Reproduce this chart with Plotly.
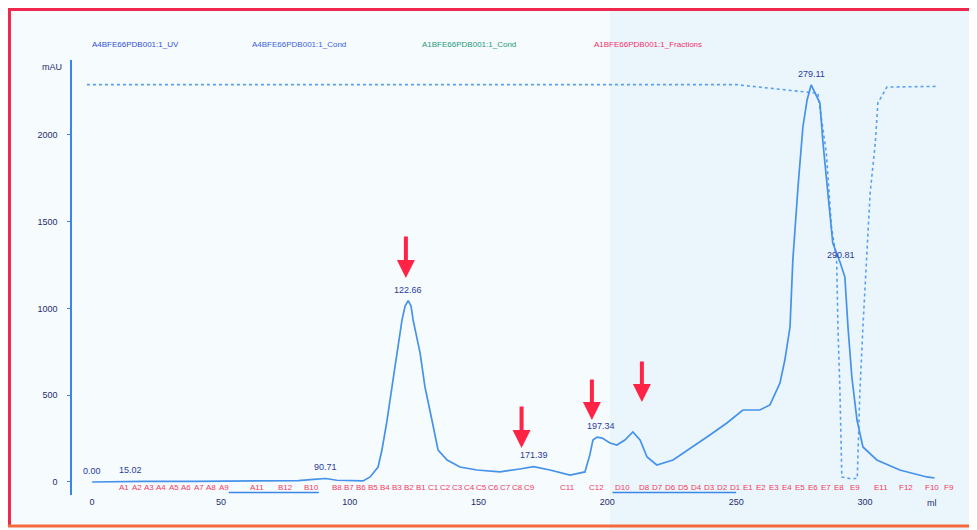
import plotly.graph_objects as go
import numpy as np

# ---------------- data ----------------
uv_ml = [0, 10, 20, 40, 60, 80, 86, 90.7, 95, 100, 105.2, 107.9, 111, 112.5, 114.5, 116.4, 118.4,
         120.3, 121.5, 122.7, 123.8, 124.6, 127.3, 129.2, 131.9, 134.3, 137.8, 142.8, 149.4, 158.3,
         166, 171.4, 177.7, 185.5, 191.3, 193.2, 194.4, 196, 198, 201, 203.7, 206.8, 209.9, 212.7,
         215.4, 219.2, 225.5, 233.2, 239.8, 246.4, 252.6, 259.2, 263.1, 267, 268.9, 270.9, 272,
         274, 275.9, 277.5, 279.1, 282.5, 283.7, 285.6, 287.5, 290.3, 292.2, 293.4, 294.9, 296.9,
         299.2, 304.6, 313.5, 324, 327]
uv_mau = [0, 2, 3, 3, 4, 8, 15, 20, 10, 6, 6, 29, 86, 184, 357, 548, 744,
          934, 1014, 1045, 1014, 934, 744, 548, 357, 184, 127, 86, 69, 58,
          75, 88, 69, 40, 58, 156, 242, 259, 253, 225, 213, 242, 288, 242,
          144, 98, 127, 202, 271, 340, 415, 415, 444, 570, 703, 893, 1280,
          1700, 2046, 2200, 2288, 2184, 1954, 1665, 1377, 1268, 1181, 893, 605, 357,
          202, 127, 69, 29, 23]

cond_ml = [-2, 50, 100, 150, 200, 250, 281.7, 285, 287, 289, 289.5, 290.3, 291, 294, 297,
           298, 299.2, 300.7, 302, 304, 305, 308.5, 328]
cond_val = [2290, 2290, 2290, 2290, 2290, 2290, 2240, 1896, 1470, 1280, 893, 513, 29, 20, 20,
            513, 893, 1280, 1665, 1954, 2184, 2276, 2280]

base_ml = [53, 88, None, 202, 250]
base_val = [-60, -60, None, -60, -60]

peak_ml = [0.00, 15.02, 90.71, 122.66, 171.39, 197.34, 279.11, 290.81]
peak_labels = ["0.00", "15.02", "90.71", "122.66", "171.39", "197.34", "279.11", "290.81"]

frac_labels = ["A1", "A2", "A3", "A4", "A5", "A6", "A7", "A8", "A9", "A11", "B12", "B10",
               "B8", "B7", "B6", "B5", "B4", "B3", "B2", "B1",
               "C1", "C2", "C3", "C4", "C5", "C6", "C7", "C8", "C9", "C11", "C12", "D10",
               "D8", "D7", "D6", "D5", "D4", "D3", "D2", "D1",
               "E1", "E2", "E3", "E4", "E5", "E6", "E7", "E8", "E9", "E11", "F12", "F10", "F9"]
frac_ml = [9.7, 14.7, 19.4, 24.1, 29.1, 33.8, 38.8, 43.5, 48.5, 60.5, 71.4, 81.5,
           92.4, 97.0, 101.7, 106.3, 111.0, 115.6, 120.3, 125.0,
           129.6, 134.3, 138.9, 143.6, 148.2, 152.9, 157.5, 162.2, 166.9, 180.8, 192.1, 202.2,
           211.5, 216.5, 221.6, 226.6, 231.7, 236.7, 241.8, 246.8,
           251.8, 256.9, 261.9, 267.0, 272.0, 277.1, 282.1, 287.2, 293.4, 302.7, 312.4, 322.5, 329.8]

arrow_ml = [121.8, 166.7, 194.0, 213.4]
arrow_tip = [1176, 196, 357, 461]
arrow_tail = [1423, 444, 599, 703]

legend_names = ["A4BFE66PDB001:1_UV", "A4BFE66PDB001:1_Cond", "A1BFE66PDB001:1_Cond",
                "A1BFE66PDB001:1_Fractions"]
legend_colors = ["#2f4fd6", "#3a62d8", "#1c9a78", "#f0306a"]

x_ticks = [0, 50, 100, 150, 200, 250, 300]
y_ticks = [0, 500, 1000, 1500, 2000]

# ---------------- layout helpers (screen pixel -> paper coords) ----------------
OFF = 8                      # page body margin
W, H = 977 - OFF, 530 - OFF
PX0, PX1 = 72, 950           # plot area on screen (x)
PY0, PY1 = 60, 495           # plot area on screen (y)
L, R = PX0 - OFF, W - (PX1 - OFF)
T, B = PY0 - OFF, H - (PY1 - OFF)
PW, PH = PX1 - PX0, PY1 - PY0


def px_x(px):
    return (px - PX0) / PW


def px_y(py):
    return (PY1 - py) / PH


fig = go.Figure()

fig.add_trace(go.Scatter(x=cond_ml, y=cond_val, mode="lines",
                         line=dict(color="#5a9ff0", width=1.6, dash="dot"),
                         name=legend_names[1], hoverinfo="skip"))
fig.add_trace(go.Scatter(x=base_ml, y=base_val, mode="lines",
                         line=dict(color="#3b86e6", width=1.5),
                         name=legend_names[2], hoverinfo="skip"))
fig.add_trace(go.Scatter(x=uv_ml, y=uv_mau, mode="lines",
                         line=dict(color="#4592ea", width=1.7),
                         name=legend_names[0]))

ann = []
# peak labels
for pm, pl in zip(peak_ml, peak_labels):
    yv = float(np.interp(pm, uv_ml, uv_mau))
    ann.append(dict(x=pm, y=yv + 25, text=pl, showarrow=False, yanchor="bottom",
                    font=dict(size=9, color="#2b3c9e", family="Liberation Sans, Arial")))
# fraction labels
for fm, fl in zip(frac_ml, frac_labels):
    ann.append(dict(x=fm, y=px_y(487), yref="paper", text=fl, showarrow=False,
                    xanchor="left", yanchor="middle",
                    font=dict(size=8, color="#f23a5e", family="Liberation Sans, Arial")))
# arrows
for am, at, aa in zip(arrow_ml, arrow_tip, arrow_tail):
    ann.append(dict(x=am, y=at, ax=am, ay=aa, axref="x", ayref="y", text="",
                    showarrow=True, arrowhead=2, arrowsize=0.9, arrowwidth=4,
                    arrowcolor="#ff2346"))
# legend texts
leg_px = [90, 250, 420, 592]
for lp, ln, lc in zip(leg_px, legend_names, legend_colors):
    ann.append(dict(x=px_x(lp), y=px_y(45), xref="paper", yref="paper", text=ln,
                    showarrow=False, xanchor="left", yanchor="middle",
                    font=dict(size=8, color=lc, family="Liberation Sans, Arial")))
# axis unit labels
ann.append(dict(x=px_x(64), y=px_y(67), xref="paper", yref="paper", text="mAU",
                showarrow=False, xanchor="right", yanchor="middle",
                font=dict(size=9, color="#1f2d6e", family="Liberation Sans, Arial")))
ann.append(dict(x=px_x(932), y=px_y(503), xref="paper", yref="paper", text="ml",
                showarrow=False, xanchor="center", yanchor="middle",
                font=dict(size=9, color="#1f2d6e", family="Liberation Sans, Arial")))

shapes = [
    # bluish right part of the scan
    dict(type="rect", xref="paper", yref="paper", x0=px_x(610), x1=px_x(977), y0=px_y(530), y1=px_y(0),
         fillcolor="#eaf6fc", line=dict(width=0), layer="below"),
    # red frame
    dict(type="line", xref="paper", yref="paper", x0=px_x(8), x1=px_x(977), y0=px_y(9.5), y1=px_y(9.5),
         line=dict(color="#f0284e", width=3)),
    dict(type="line", xref="paper", yref="paper", x0=px_x(9.5), x1=px_x(9.5), y0=px_y(8), y1=px_y(526),
         line=dict(color="#f0284e", width=3)),
    dict(type="line", xref="paper", yref="paper", x0=px_x(8), x1=px_x(977), y0=px_y(526), y1=px_y(526),
         line=dict(color="#f56a3a", width=3)),
]

fig.update_layout(
    width=W, height=H, autosize=False,
    margin=dict(l=L, r=R, t=T, b=B),
    paper_bgcolor="#f6fbfe", plot_bgcolor="rgba(0,0,0,0)",
    showlegend=False,
    annotations=ann, shapes=shapes,
    font=dict(family="Liberation Sans, Arial", size=9, color="#1f2d6e"),
)
fig.update_xaxes(range=[-7.8, 333], tickvals=x_ticks, showgrid=False, zeroline=False,
                 showline=False, ticks="", tickfont=dict(size=9, color="#1f2d6e"))
fig.update_yaxes(range=[-75, 2432], tickvals=y_ticks, showgrid=False,
                 zeroline=False, showline=True, linecolor="#3a86e6", linewidth=1.5,
                 ticks="outside", ticklen=3, tickcolor="#3a86e6", ticklabelstandoff=8,
                 tickfont=dict(size=9, color="#1f2d6e"))

fig.write_html("out.html")
